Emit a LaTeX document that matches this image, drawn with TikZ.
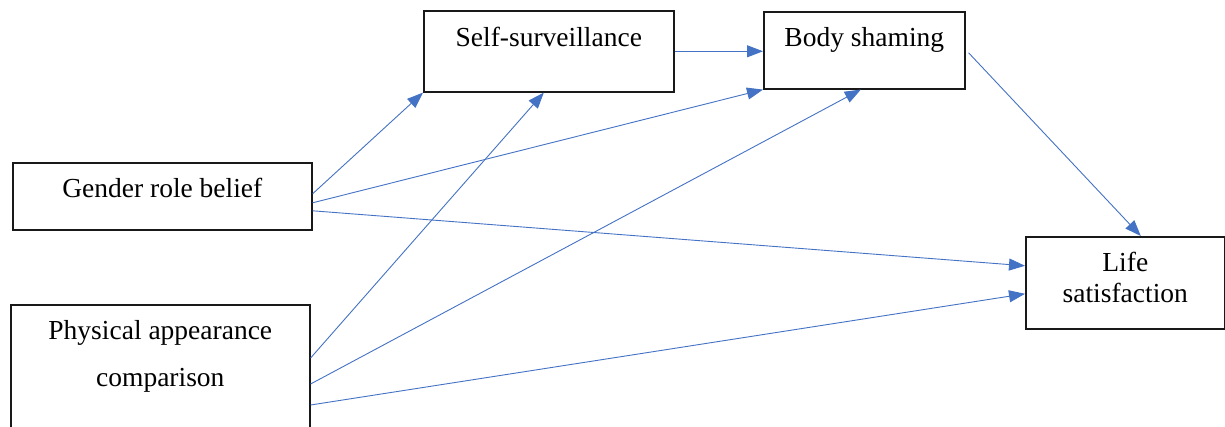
\documentclass[tikz,border=0pt]{standalone}
\usepackage{fontspec}
\setmainfont{Liberation Serif}
\usetikzlibrary{arrows.meta}
\definecolor{linkblue}{HTML}{4472C4}
\begin{document}
\begin{tikzpicture}[x=1pt,y=-1pt,
  box/.style={draw=black!90, line width=1.6pt, rectangle, inner sep=0pt,
    anchor=north west, font=\fontsize{27.5}{33}\selectfont},
  link/.style={draw=linkblue, line width=0.9pt,
    -{Triangle[length=16pt,width=12pt]}}
]
\clip (0,0) rectangle (1225,427);
\fill[white] (0,0) rectangle (1225,427);

% variables
\node[box, minimum width=250pt, text height=36pt, text depth=45pt]
  (ss) at (423,10) {Self-surveillance};
\node[box, minimum width=201pt, text height=35pt, text depth=42pt]
  (bs) at (763,11) {Body shaming};
\node[box, minimum width=299pt, text height=35pt, text depth=32pt]
  (grb) at (12,162) {Gender role belief};
\node[box, minimum width=299pt, text height=35pt, text depth=121pt]
  (pac) at (10,304) {\begin{tabular}[t]{@{}c@{}}Physical appearance\\[14pt]comparison\end{tabular}};
\node[box, minimum width=199pt, text height=35pt, text depth=57pt]
  (ls) at (1025,236) {\begin{tabular}[t]{@{}c@{}}Life\\[-2pt]satisfaction\end{tabular}};

% paths
\draw[link] ([yshift=2.5pt]grb.east) -- (ss.south west);
\draw[link] ([yshift=-6.5pt]grb.east) -- (bs.south west);
\draw[link] ([yshift=-14.5pt]grb.east) -- ([yshift=17pt]ls.west);
\draw[link] ([yshift=-54pt]pac.north east) -- ([xshift=-5pt]ss.south);
\draw[link] ([yshift=-80pt]pac.north east) -- ([xshift=-3.5pt]bs.south);
\draw[link] ([yshift=-101pt]pac.north east) -- ([yshift=-11pt]ls.west);
\draw[link] (ss.east) -- (ss.east -| bs.west);
\draw[link] ([xshift=3pt,yshift=-2.5pt]bs.east) -- ([xshift=15.5pt]ls.north);
\end{tikzpicture}
\end{document}
